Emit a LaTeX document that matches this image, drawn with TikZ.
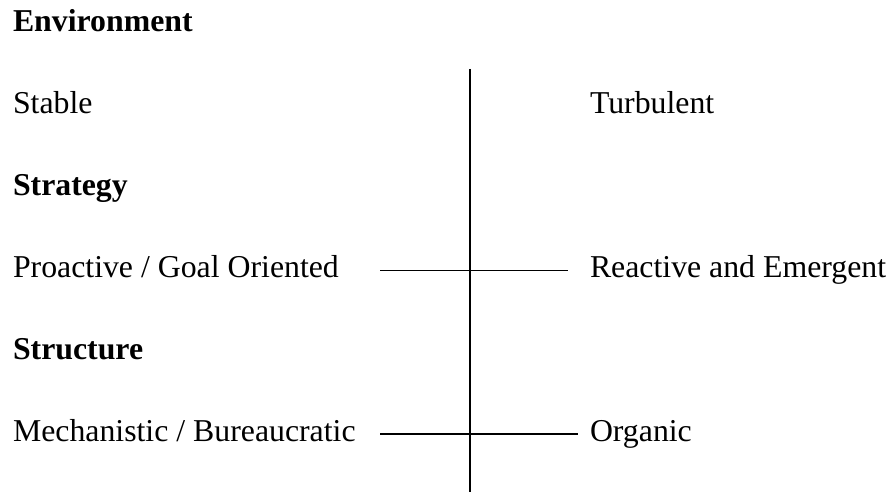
\documentclass[tikz,border=0pt]{standalone}
\usepackage{fontspec}
\setmainfont{Liberation Serif}
\begin{document}
\begin{tikzpicture}[x=1pt,y=-1pt,
  label/.style={anchor=base west,inner sep=0pt,outer sep=0pt,
    font=\fontsize{31.8}{36}\selectfont},
  heading/.style={label,font=\fontsize{31.8}{36}\selectfont\bfseries},
  axis/.style={line width=1.6pt,black}]
  \useasboundingbox (0,0) rectangle (890,492);

  % headings and pole labels
  \node[heading] (env)    at (13,32)  {Environment};
  \node[label]   (stable) at (13,113.5) {Stable};
  \node[label]   (turb)   at (590,113.5) {Turbulent};
  \node[heading] (strat)  at (13,195) {Strategy};
  \node[label]   (pro)    at (13,277) {Proactive / Goal Oriented};
  \node[label]   (react)  at (590,277) {Reactive and Emergent};
  \node[heading] (struct) at (13,359) {Structure};
  \node[label]   (mech)   at (13,441) {Mechanistic / Bureaucratic};
  \node[label]   (org)    at (590,441) {Organic};

  % axis end points
  \coordinate (vtop) at (470,69);
  \coordinate (vbot) at (470,492);
  \coordinate (s1) at (380,270.5);
  \coordinate (s2) at (568,270.5);
  \coordinate (t1) at (380,434);
  \coordinate (t2) at (578,434);

  \draw[axis] (vtop) -- (vbot);
  \draw[axis] (s1) -- (s2);
  \draw[axis] (t1) -- (t2);
\end{tikzpicture}
\end{document}
